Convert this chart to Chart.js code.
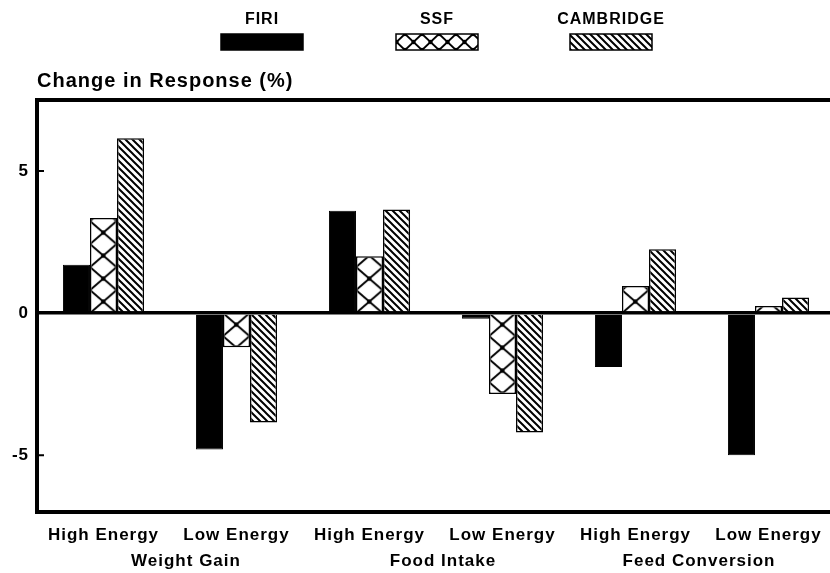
<!DOCTYPE html>
<html>
<head>
<meta charset="utf-8">
<script src="https://cdn.jsdelivr.net/npm/chart.js@4.4.1/dist/chart.umd.min.js"></script>
<style>
  html, body { margin: 0; padding: 0; background: #fff; overflow: hidden; }
</style>
</head>
<body>
<canvas id="chart" width="840" height="573"></canvas>
<script>
// datos
const categories = ["High Energy", "Low Energy", "High Energy", "Low Energy", "High Energy", "Low Energy"];
const groups = ["Weight Gain", "Food Intake", "Feed Conversion"];
const seriesNames = ["FIRI", "SSF", "CAMBRIDGE"];
const firi = [1.7, -4.8, 3.6, -0.2, -1.9, -5.0];
const ssf = [3.35, -1.2, 2.0, -2.85, 0.95, 0.25];
const cambridge = [6.15, -3.85, 3.65, -4.2, 2.25, 0.55];
const yTicks = [-5, 0, 5];

const FONT = "Liberation Sans";

// tramas
function crossTile(w, h) {
    const c = document.createElement("canvas");
    c.width = w; c.height = h;
    const g = c.getContext("2d");
    g.fillStyle = "#fff";
    g.fillRect(0, 0, w, h);
    g.strokeStyle = "#000";
    g.lineWidth = 2;
    g.beginPath();
    g.moveTo(0, 0); g.lineTo(w, h);
    g.moveTo(w, 0); g.lineTo(0, h);
    g.stroke();
    g.fillStyle = "#000";
    [[0, 0], [w, 0], [0, h], [w, h], [w / 2, h / 2]].forEach(([x, y]) => {
        g.beginPath(); g.arc(x, y, 2.2, 0, Math.PI * 2); g.fill();
    });
    return c;
}

function diagTile(s) {
    const c = document.createElement("canvas");
    c.width = s; c.height = s;
    const g = c.getContext("2d");
    g.fillStyle = "#fff";
    g.fillRect(0, 0, s, s);
    g.strokeStyle = "#000";
    g.lineWidth = 2;
    g.beginPath();
    g.moveTo(-1, -1); g.lineTo(s + 1, s + 1);
    g.moveTo(-1, s - 1); g.lineTo(1, s + 1);
    g.moveTo(s - 1, -1); g.lineTo(s + 1, 1);
    g.stroke();
    return c;
}

const ctx = document.getElementById("chart").getContext("2d");
const ssfPattern = ctx.createPattern(crossTile(27, 23), "repeat");
const cambPattern = ctx.createPattern(diagTile(7), "repeat");
const ssfLegendPattern = ctx.createPattern(crossTile(17, 16), "repeat");
const cambLegendPattern = ctx.createPattern(diagTile(7), "repeat");

const decor = {
    id: "decor",
    beforeDraw(chart) {
        chart.ctx.letterSpacing = "1px";
    },
    beforeDatasetsDraw(chart) {
        const xs = chart.scales.x, ys = chart.scales.y;
        const catW = xs.width / categories.length;
        const bar = chart.getDatasetMeta(1).data[0];
        const left = bar.x - bar.width / 2;
        ssfPattern.setTransform(new DOMMatrix([catW / 5 / 27, 0, 0, 1, left, ys.getPixelForValue(0)]));
    },
    afterDraw(chart) {
        const { ctx, chartArea: a } = chart;
        const xs = chart.scales.x, ys = chart.scales.y;
        ctx.save();
        ctx.strokeStyle = "#000";
        ctx.lineWidth = 4;
        ctx.strokeRect(a.left, a.top, a.right - a.left, a.bottom - a.top);

        // marcas interiores del eje y
        ctx.lineWidth = 2;
        ctx.beginPath();
        yTicks.filter(v => v !== 0).forEach(v => {
            const py = ys.getPixelForValue(v);
            ctx.moveTo(a.left, py);
            ctx.lineTo(a.left + 7, py);
        });
        ctx.stroke();

        ctx.fillStyle = "#000";
        ctx.textBaseline = "middle";
        ctx.letterSpacing = "1px";

        // nombres de grupo bajo las categorias
        const nudge = [16, 7, -3];
        ctx.font = "bold 17px '" + FONT + "'";
        ctx.textAlign = "center";
        groups.forEach((g, i) => {
            const cx = (xs.getPixelForValue(2 * i) + xs.getPixelForValue(2 * i + 1)) / 2 + nudge[i];
            ctx.fillText(g, cx, 561);
        });

        ctx.textAlign = "left";
        ctx.font = "bold 20px '" + FONT + "'";
        ctx.fillText("Change in Response (%)", a.left, 81);

        // leyenda
        const centers = [262, 437, 611];
        const fills = ["#000", ssfLegendPattern, cambLegendPattern];
        ctx.font = "bold 16px '" + FONT + "'";
        ctx.textAlign = "center";
        seriesNames.forEach((name, i) => {
            const cx = centers[i];
            ctx.fillStyle = "#000";
            ctx.fillText(name, cx, 20);
            const x = cx - 41, y = 34;
            if (fills[i] !== "#000") {
                fills[i].setTransform(new DOMMatrix([1, 0, 0, 1, x - 8, y]));
            }
            ctx.fillStyle = fills[i];
            ctx.fillRect(x, y, 82, 16);
            ctx.lineWidth = 1.5;
            ctx.strokeRect(x, y, 82, 16);
        });
        ctx.restore();
    }
};

const tickFont = { family: FONT, size: 17, weight: "bold" };

new Chart(ctx, {
    type: "bar",
    data: {
        labels: categories,
        datasets: [
            { label: seriesNames[0], data: firi, backgroundColor: "#000", borderColor: "#000", borderWidth: 1 },
            { label: seriesNames[1], data: ssf, backgroundColor: ssfPattern, borderColor: "#000", borderWidth: 1.5 },
            { label: seriesNames[2], data: cambridge, backgroundColor: cambPattern, borderColor: "#000", borderWidth: 1.5 }
        ]
    },
    options: {
        responsive: false,
        animation: false,
        events: [],
        categoryPercentage: 0.61,
        barPercentage: 1,
        layout: { padding: { top: 100, right: 5, left: 0, bottom: 0 } },
        plugins: {
            legend: { display: false },
            tooltip: { enabled: false }
        },
        scales: {
            x: {
                grid: { display: false },
                border: { display: false },
                ticks: { color: "#000", font: tickFont, padding: 5, autoSkip: false, maxRotation: 0 },
                afterFit: (s) => { s.height = 61; }
            },
            y: {
                min: -7,
                max: 7.5,
                border: { display: false },
                afterBuildTicks: (s) => { s.ticks = yTicks.map(v => ({ value: v })); },
                grid: {
                    color: (c) => (c.tick && c.tick.value === 0 ? "#000" : "rgba(0,0,0,0)"),
                    lineWidth: (c) => (c.tick && c.tick.value === 0 ? 3.5 : 1),
                    drawTicks: false
                },
                ticks: { color: "#000", font: tickFont, padding: 8 },
                afterFit: (s) => { s.width = 37; }
            }
        }
    },
    plugins: [decor]
});
</script>
</body>
</html>
